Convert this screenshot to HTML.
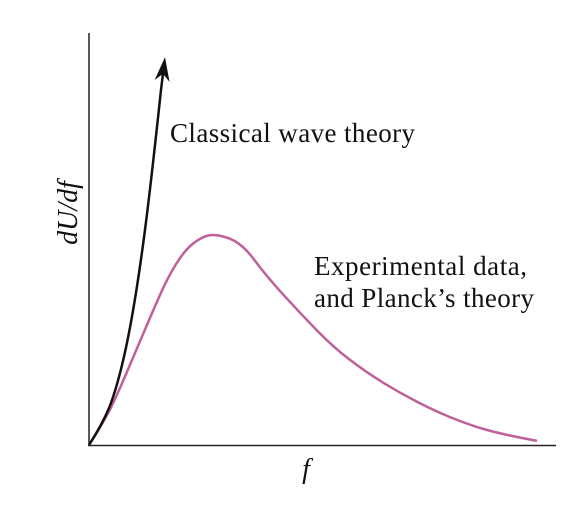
<!DOCTYPE html>
<html><head><meta charset="utf-8"><style>
body{margin:0;background:#fff;}
svg text{font-family:"Liberation Serif",serif;fill:#111;}
</style></head><body>
<svg id="chart" width="578" height="504" viewBox="0 0 578 504" xmlns="http://www.w3.org/2000/svg">
<line x1="89" y1="33" x2="89" y2="446" stroke="#222" stroke-width="1.5"/>
<line x1="88" y1="445.5" x2="556" y2="445.5" stroke="#222" stroke-width="1.5"/>
<text transform="translate(77,213) rotate(-90)" text-anchor="middle" font-size="28" font-style="italic">dU/df</text>
<text x="306" y="478" text-anchor="middle" font-size="28" font-style="italic">f</text>
<text x="170" y="142" font-size="27" textLength="245">Classical wave theory</text>
<text x="314" y="275" font-size="27" textLength="213">Experimental data,</text>
<text x="314" y="307" font-size="27" textLength="220">and Planck’s theory</text>
<path id="planck" fill="none" stroke="#c0609a" stroke-width="2.5"/>
<path id="classical" fill="none" stroke="#111" stroke-width="2.5"/>
<polygon id="arrow" fill="#111"/>
</svg>
<script>
const planckF = [0,0.343,0.622,0.987,1.352,1.695,2.060,2.425,2.747,3.283,3.820,4.528,5.236,5.966,6.674,7.382,8.112,8.820,9.614];
const planckU = [0,0.61,1.27,2.24,3.22,4.10,4.76,5.08,5.15,4.92,4.10,3.22,2.39,1.76,1.27,0.85,0.51,0.27,0.10];
const classicalF = [0,0.343,0.622,0.880,1.137,1.373,1.545];
const classicalU = [0,0.61,1.51,2.80,4.63,6.83,8.66];
const arrowTip = [1.631, 9.46];
function xs(f){return 89+f*46.6;}
function ys(u){return 445-u*41;}
function smooth(F,U){
  const p=F.map((f,i)=>[xs(f),ys(U[i])]);
  let d=`M${p[0][0]},${p[0][1]}`;
  for(let i=1;i<p.length-1;i++){
    const mx=(p[i][0]+p[i+1][0])/2,my=(p[i][1]+p[i+1][1])/2;
    const end=(i===p.length-2)?p[i+1]:[mx,my];
    d+=` Q${p[i][0]},${p[i][1]} ${end[0]},${end[1]}`;
  }
  return d;
}
document.getElementById('planck').setAttribute('d',smooth(planckF,planckU));
const tx=xs(arrowTip[0]),ty=ys(arrowTip[1]);
const n=classicalF.length-1;
const bx=xs(classicalF[n]),by=ys(classicalU[n]);
let dx=tx-bx,dy=ty-by;const L=Math.hypot(dx,dy);dx/=L;dy/=L;
const len=24,w=7.5;
const baseX=tx-dx*len,baseY=ty-dy*len;
const notchX=tx-dx*len*0.7,notchY=ty-dy*len*0.7;
document.getElementById('classical').setAttribute('d',smooth(classicalF,classicalU)+` L${notchX},${notchY}`);
document.getElementById('arrow').setAttribute('points',
 `${tx},${ty} ${baseX-dy*w},${baseY+dx*w} ${notchX},${notchY} ${baseX+dy*w},${baseY-dx*w}`);
</script>
</body></html>
